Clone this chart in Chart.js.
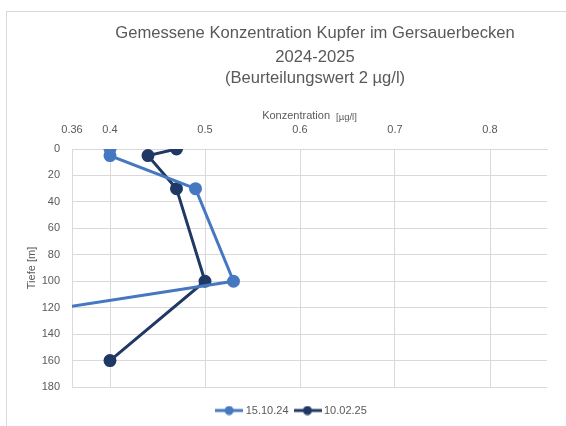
<!DOCTYPE html>
<html>
<head>
<meta charset="utf-8">
<script src="https://cdn.jsdelivr.net/npm/chart.js@4"></script>
<style>
  body { margin: 0; background: #fff; }
  #wrap { position: relative; width: 566px; height: 426px; }
  #frame { position: absolute; left: 6px; top: 11px; right: 0; bottom: 0;
           border-left: 1px solid #d9d9d9; border-top: 1px solid #d9d9d9; }
  canvas { position: absolute; left: 0; top: 0; }
</style>
</head>
<body>
<div id="wrap">
  <div id="frame"></div>
  <canvas id="chart" width="566" height="426"></canvas>
</div>
<script>
// Messwerte (Tiefe in m, Konzentration in µg/l)
const seriesNames = ['15.10.24', '10.02.25'];
const depth1 = [0, 5, 30, 100, 120];
const conc1 = [0.40, 0.40, 0.49, 0.53, 0.35];
const depth2 = [0, 5, 30, 100, 160];
const conc2 = [0.47, 0.44, 0.47, 0.50, 0.40];
const xTicks = [0.36, 0.4, 0.5, 0.6, 0.7, 0.8];
const titleLines = ['Gemessene Konzentration Kupfer im Gersauerbecken', '2024-2025', '(Beurteilungswert 2 µg/l)'];

const colors = ['#4578c0', '#1f3864'];
const grey = '#595959';
const fontFamily = 'Liberation Sans';

// Legendensymbol: Linie mit Punkt
function legendIcon(color) {
    const c = document.createElement('canvas');
    c.width = 28;
    c.height = 10;
    const g = c.getContext('2d');
    g.strokeStyle = color;
    g.lineWidth = 3;
    g.beginPath();
    g.moveTo(0, 5);
    g.lineTo(28, 5);
    g.stroke();
    g.fillStyle = color;
    g.beginPath();
    g.arc(14, 5, 4.5, 0, Math.PI * 2);
    g.fill();
    return c;
}

function toPoints(xs, ys) {
    return xs.map((x, i) => ({ x: x, y: ys[i] }));
}

// Titel und Achsentitel selbst zeichnen (Position wie im Excel-Diagramm)
const textPlugin = {
    id: 'texts',
    afterDraw(chart) {
        const c = chart.ctx;
        const area = chart.chartArea;
        c.save();
        c.fillStyle = grey;
        c.textAlign = 'center';
        c.textBaseline = 'middle';
        c.font = '16.6px "' + fontFamily + '"';
        [33, 57, 78].forEach((y, i) => c.fillText(titleLines[i], 315, y));

        // x-Achsentitel mit kleinerer Einheit
        const main = 'Konzentration';
        const unit = '[µg/l]';
        c.font = '11px "' + fontFamily + '"';
        const w1 = c.measureText(main).width;
        c.font = '9.5px "' + fontFamily + '"';
        const w2 = c.measureText(unit).width;
        const gap = 6;
        let x0 = (area.left + area.right) / 2 - (w1 + gap + w2) / 2;
        c.textAlign = 'left';
        c.font = '11px "' + fontFamily + '"';
        c.fillText(main, x0, 116);
        c.font = '9.5px "' + fontFamily + '"';
        c.fillText(unit, x0 + w1 + gap, 117);

        // y-Achsentitel
        c.translate(32, (area.top + area.bottom) / 2);
        c.rotate(-Math.PI / 2);
        c.textAlign = 'center';
        c.font = '11px "' + fontFamily + '"';
        c.fillText('Tiefe [m]', 0, 0);
        c.restore();
    }
};

const ctx = document.getElementById('chart').getContext('2d');

new Chart(ctx, {
    type: 'line',
    data: {
        datasets: [
            {
                label: seriesNames[0],
                data: toPoints(conc1, depth1),
                borderColor: colors[0],
                backgroundColor: colors[0],
                borderWidth: 3,
                pointRadius: 5,
                pointHoverRadius: 5
            },
            {
                label: seriesNames[1],
                data: toPoints(conc2, depth2),
                borderColor: colors[1],
                backgroundColor: colors[1],
                borderWidth: 3,
                pointRadius: 5,
                pointHoverRadius: 5
            }
        ]
    },
    plugins: [textPlugin],
    options: {
        responsive: false,
        animation: false,
        parsing: false,
        layout: { padding: { left: 38, right: 19, top: 89, bottom: 0 } },
        plugins: {
            title: { display: false },
            legend: {
                position: 'bottom',
                labels: {
                    color: grey,
                    font: { family: fontFamily, size: 11 },
                    usePointStyle: true,
                    pointStyleWidth: 22,
                    padding: 8,
                    generateLabels: chart => chart.data.datasets.map((ds, i) => ({
                        text: ds.label,
                        pointStyle: legendIcon(colors[i]),
                        fillStyle: colors[i],
                        strokeStyle: colors[i],
                        lineWidth: 0,
                        fontColor: grey,
                        datasetIndex: i
                    }))
                }
            },
            tooltip: { enabled: false }
        },
        scales: {
            x: {
                type: 'linear',
                position: 'top',
                min: 0.36,
                max: 0.86,
                afterBuildTicks: scale => {
                    scale.ticks = xTicks.map(v => ({ value: v }));
                },
                afterFit: scale => { scale.height = 60; },
                ticks: {
                    color: grey,
                    font: { family: fontFamily, size: 11 },
                    padding: 12,
                    maxRotation: 0,
                    autoSkip: false,
                    callback: v => String(v)
                },
                grid: { color: '#d9d9d9', drawTicks: false },
                border: { color: '#d9d9d9' }
            },
            // nur Abstand zwischen Diagramm und Legende
            gap: {
                type: 'linear',
                position: 'bottom',
                afterFit: scale => { scale.height = 10; },
                ticks: { display: false },
                grid: { display: false },
                border: { display: false }
            },
            y: {
                type: 'linear',
                reverse: true,
                min: 0,
                max: 180,
                afterFit: scale => { scale.width = 34; },
                ticks: {
                    stepSize: 20,
                    color: grey,
                    font: { family: fontFamily, size: 11 },
                    padding: 12
                },
                grid: { color: '#d9d9d9', drawTicks: false },
                border: { color: '#d9d9d9' }
            }
        }
    }
});
</script>
</body>
</html>
